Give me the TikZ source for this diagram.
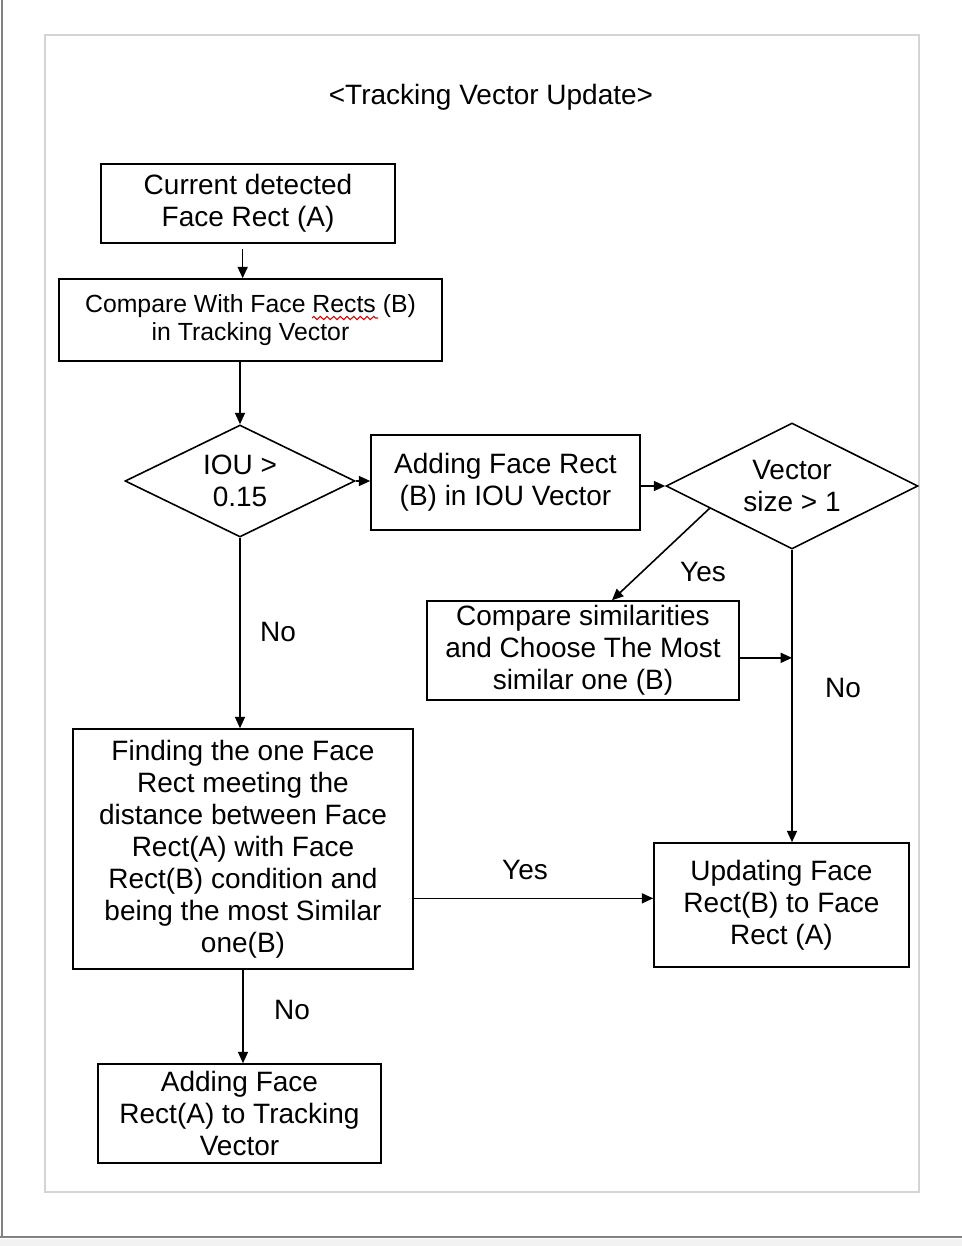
\documentclass[tikz,border=0pt]{standalone}
\usepackage{fontspec}
\setmainfont{Liberation Sans}
\usetikzlibrary{shapes.geometric,arrows.meta,calc,decorations.pathmorphing}
\definecolor{framegray}{RGB}{130,130,130}
\definecolor{pagegray}{RGB}{212,212,212}
\begin{document}
\begin{tikzpicture}[x=0.75pt,y=-0.75pt,
  box/.style={draw=black,line width=1.2pt,rectangle,inner sep=0pt,align=center,font=\fontsize{21}{24}\selectfont},
  dia/.style={draw=black,line width=1.2pt,diamond,inner sep=0pt,align=center,font=\fontsize{21}{24}\selectfont},
  arr/.style={draw=black,line width=1.2pt,-{Triangle[length=8.5pt,width=7.5pt]}},
  lbl/.style={font=\fontsize{21}{24}\selectfont,inner sep=0pt}]
\useasboundingbox (0,0) rectangle (962,1246);
% outer window frame
\fill[black!5] (0,1239) rectangle (962,1246);
\draw[framegray,line width=1.5pt] (2,0) -- (2,1237);
\draw[framegray,line width=2.2pt] (0,1237) -- (962,1237);
% page
\draw[pagegray,line width=1.5pt] (45,35) rectangle (919,1192);

\node[lbl] (title) at (491,97) {<Tracking Vector Update>};

\node[box,minimum width=220.5pt,minimum height=59.25pt] (b1) at (248,203.5) {Current detected\\Face Rect (A)};
\node[box,minimum width=287.25pt,minimum height=61.5pt,font=\fontsize{18.6}{21}\selectfont] (b2) at (250.5,320) {Compare With Face Rects (B)\\in Tracking Vector};
\node[dia,minimum width=172.5pt,minimum height=84pt,shape aspect=2] (d1) at (240,481) {IOU >\\0.15};
\node[box,minimum width=201.75pt,minimum height=71.25pt] (b3) at (505.5,482.5) {Adding Face Rect\\(B) in IOU Vector};
\node[dia,minimum width=189pt,minimum height=94.5pt,shape aspect=2] (d2) at (792,486) {Vector\\size > 1};
\node[box,minimum width=234pt,minimum height=74.25pt] (b4) at (583,650.5) {Compare similarities\\and Choose The Most\\similar one (B)};
\node[box,minimum width=255pt,minimum height=180pt] (b5) at (243,849) {Finding the one Face\\Rect meeting the\\distance between Face\\Rect(A) with Face\\Rect(B) condition and\\being the most Similar\\one(B)};
\node[box,minimum width=191.25pt,minimum height=93pt] (b6) at (781.5,905) {Updating Face\\Rect(B) to Face\\Rect (A)};
\node[box,minimum width=212.25pt,minimum height=74.25pt] (b7) at (239.5,1113.5) {Adding Face\\Rect(A) to Tracking\\Vector};

% spell-check squiggle under "Rects"
\draw[red!85!black,line width=0.8pt,decorate,decoration={zigzag,segment length=5pt,amplitude=1.2pt}] (312,318) -- (378,318);

% connectors
\draw[arr] ([xshift=-4pt,yshift=-4pt]b1.south) -- ([xshift=-4pt]b1.south |- b2.north);
\draw[arr] (b2.south -| d1.north) -- (d1.north);
\draw[arr] (d1.east) -- (d1.east -| b3.west);
\draw[arr] (d2.west -| b3.east) -- (d2.west);
\draw[arr] ($(d2.west)!0.35!(d2.south)$) -- ($(b4.north)+(29,0)$);
\draw[arr] ([yshift=-5.5pt]b4.east) -- ([yshift=-5.5pt]b4.east -| d2.south);
\draw[arr] (d2.south) -- (d2.south |- b6.north);
\draw[arr] (d1.south) -- (d1.south |- b5.north);
\draw[arr] ([yshift=5pt]b6.west -| b5.east) -- ([yshift=5pt]b6.west);
\draw[arr] (b5.south) -- (b5.south |- b7.north);

% labels
\node[lbl] (yes1) at (703,572) {Yes};
\node[lbl] (no1) at (278,632) {No};
\node[lbl] (no2) at (843,688) {No};
\node[lbl] (yes2) at (525,870) {Yes};
\node[lbl] (no3) at (292,1010) {No};
\end{tikzpicture}
\end{document}
